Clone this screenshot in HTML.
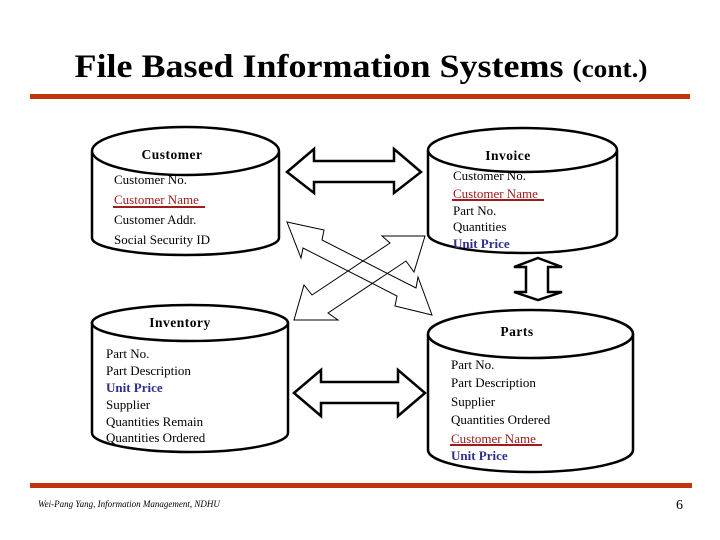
<!DOCTYPE html>
<html><head><meta charset="utf-8"><style>
html,body{margin:0;padding:0;background:#fff;}
svg{display:block;}
text{font-family:"Liberation Serif",serif;}
</style></head><body>
<svg width="720" height="540" viewBox="0 0 720 540" xmlns="http://www.w3.org/2000/svg">
<text x="361" y="77" text-anchor="middle" font-size="33" font-weight="bold" textLength="573" lengthAdjust="spacingAndGlyphs">File Based Information Systems <tspan font-size="25">(cont.)</tspan></text>
<rect x="30" y="94" width="660" height="5" fill="#c0360c"/>
<rect x="30" y="483" width="662" height="5" fill="#c0360c"/>
<text x="38" y="507" font-size="9" font-style="italic">Wei-Pang Yang, Information Management, NDHU</text>
<text x="676" y="509" font-size="14">6</text>

<g fill="#fff" stroke="#000" stroke-width="2.5">
<path d="M92,152 L92,238 A93.5,17 0 0 0 279,238 L279,152"/>
<ellipse cx="185.5" cy="151" rx="93.5" ry="24"/>
<path d="M428,150 L428,234 A94.5,19 0 0 0 617,234 L617,150"/>
<ellipse cx="522.5" cy="150" rx="94.5" ry="22"/>
<path d="M92,322 L92,433 A98,19 0 0 0 288,433 L288,322"/>
<ellipse cx="190" cy="323" rx="98" ry="18"/>
<path d="M428,334 L428,450 A102.5,22 0 0 0 633,450 L633,334"/>
<ellipse cx="530.5" cy="334" rx="102.5" ry="24"/>
</g>

<g fill="#fff" stroke="#000" stroke-width="2.5" stroke-linejoin="miter">
<polygon points="287,172 314,149 314,161 394,161 394,149 421,172 394,193 394,182 314,182 314,193"/>
<polygon points="294,393 321,370 321,382 398,382 398,370 425,393 398,416 398,403 321,403 321,416"/>
<polygon points="538,258 562,267 548,267 548,292 562,292 538,300 514,292 526,292 526,267 514,267"/>
</g>

<g fill="none" stroke="#000" stroke-width="1">
<polygon points="287,222 324,230 322,240 416,288 418,277 432,315 395,306 397,296 303,248 301,258"/>
<polygon points="425,236 414,272 406,261 328,313 338,320 294,320 304,285 312,295 390,243 382,236"/>
</g>

<g font-size="13">
<text x="172" y="159" text-anchor="middle" font-weight="bold" font-size="13.5" letter-spacing="0.5">Customer</text>
<text x="114" y="184">Customer No.</text>
<text x="114" y="204" fill="#a01c1c">Customer Name</text>
<rect x="113" y="206" width="92" height="2" fill="#a01c1c"/>
<text x="114" y="224">Customer Addr.</text>
<text x="114" y="244">Social Security ID</text>

<text x="508" y="160" text-anchor="middle" font-weight="bold" font-size="13.5" letter-spacing="0.5">Invoice</text>
<text x="453" y="180">Customer No.</text>
<text x="453" y="198" fill="#a01c1c">Customer Name</text>
<rect x="452" y="199" width="92" height="2" fill="#a01c1c"/>
<text x="453" y="215">Part No.</text>
<text x="453" y="231">Quantities</text>
<text x="453" y="248" fill="#2e2e8c" font-weight="bold">Unit Price</text>

<text x="180" y="327" text-anchor="middle" font-weight="bold" font-size="13.5" letter-spacing="0.5">Inventory</text>
<text x="106" y="358">Part No.</text>
<text x="106" y="375">Part Description</text>
<text x="106" y="392" fill="#2e2e8c" font-weight="bold">Unit Price</text>
<text x="106" y="409">Supplier</text>
<text x="106" y="426">Quantities Remain</text>
<text x="106" y="442">Quantities Ordered</text>

<text x="517" y="336" text-anchor="middle" font-weight="bold" font-size="13.5" letter-spacing="0.5">Parts</text>
<text x="451" y="369">Part No.</text>
<text x="451" y="387">Part Description</text>
<text x="451" y="406">Supplier</text>
<text x="451" y="424">Quantities Ordered</text>
<text x="451" y="443" fill="#a01c1c">Customer Name</text>
<rect x="450" y="444" width="92" height="2" fill="#a01c1c"/>
<text x="451" y="460" fill="#2e2e8c" font-weight="bold">Unit Price</text>
</g>
</svg>
</body></html>
